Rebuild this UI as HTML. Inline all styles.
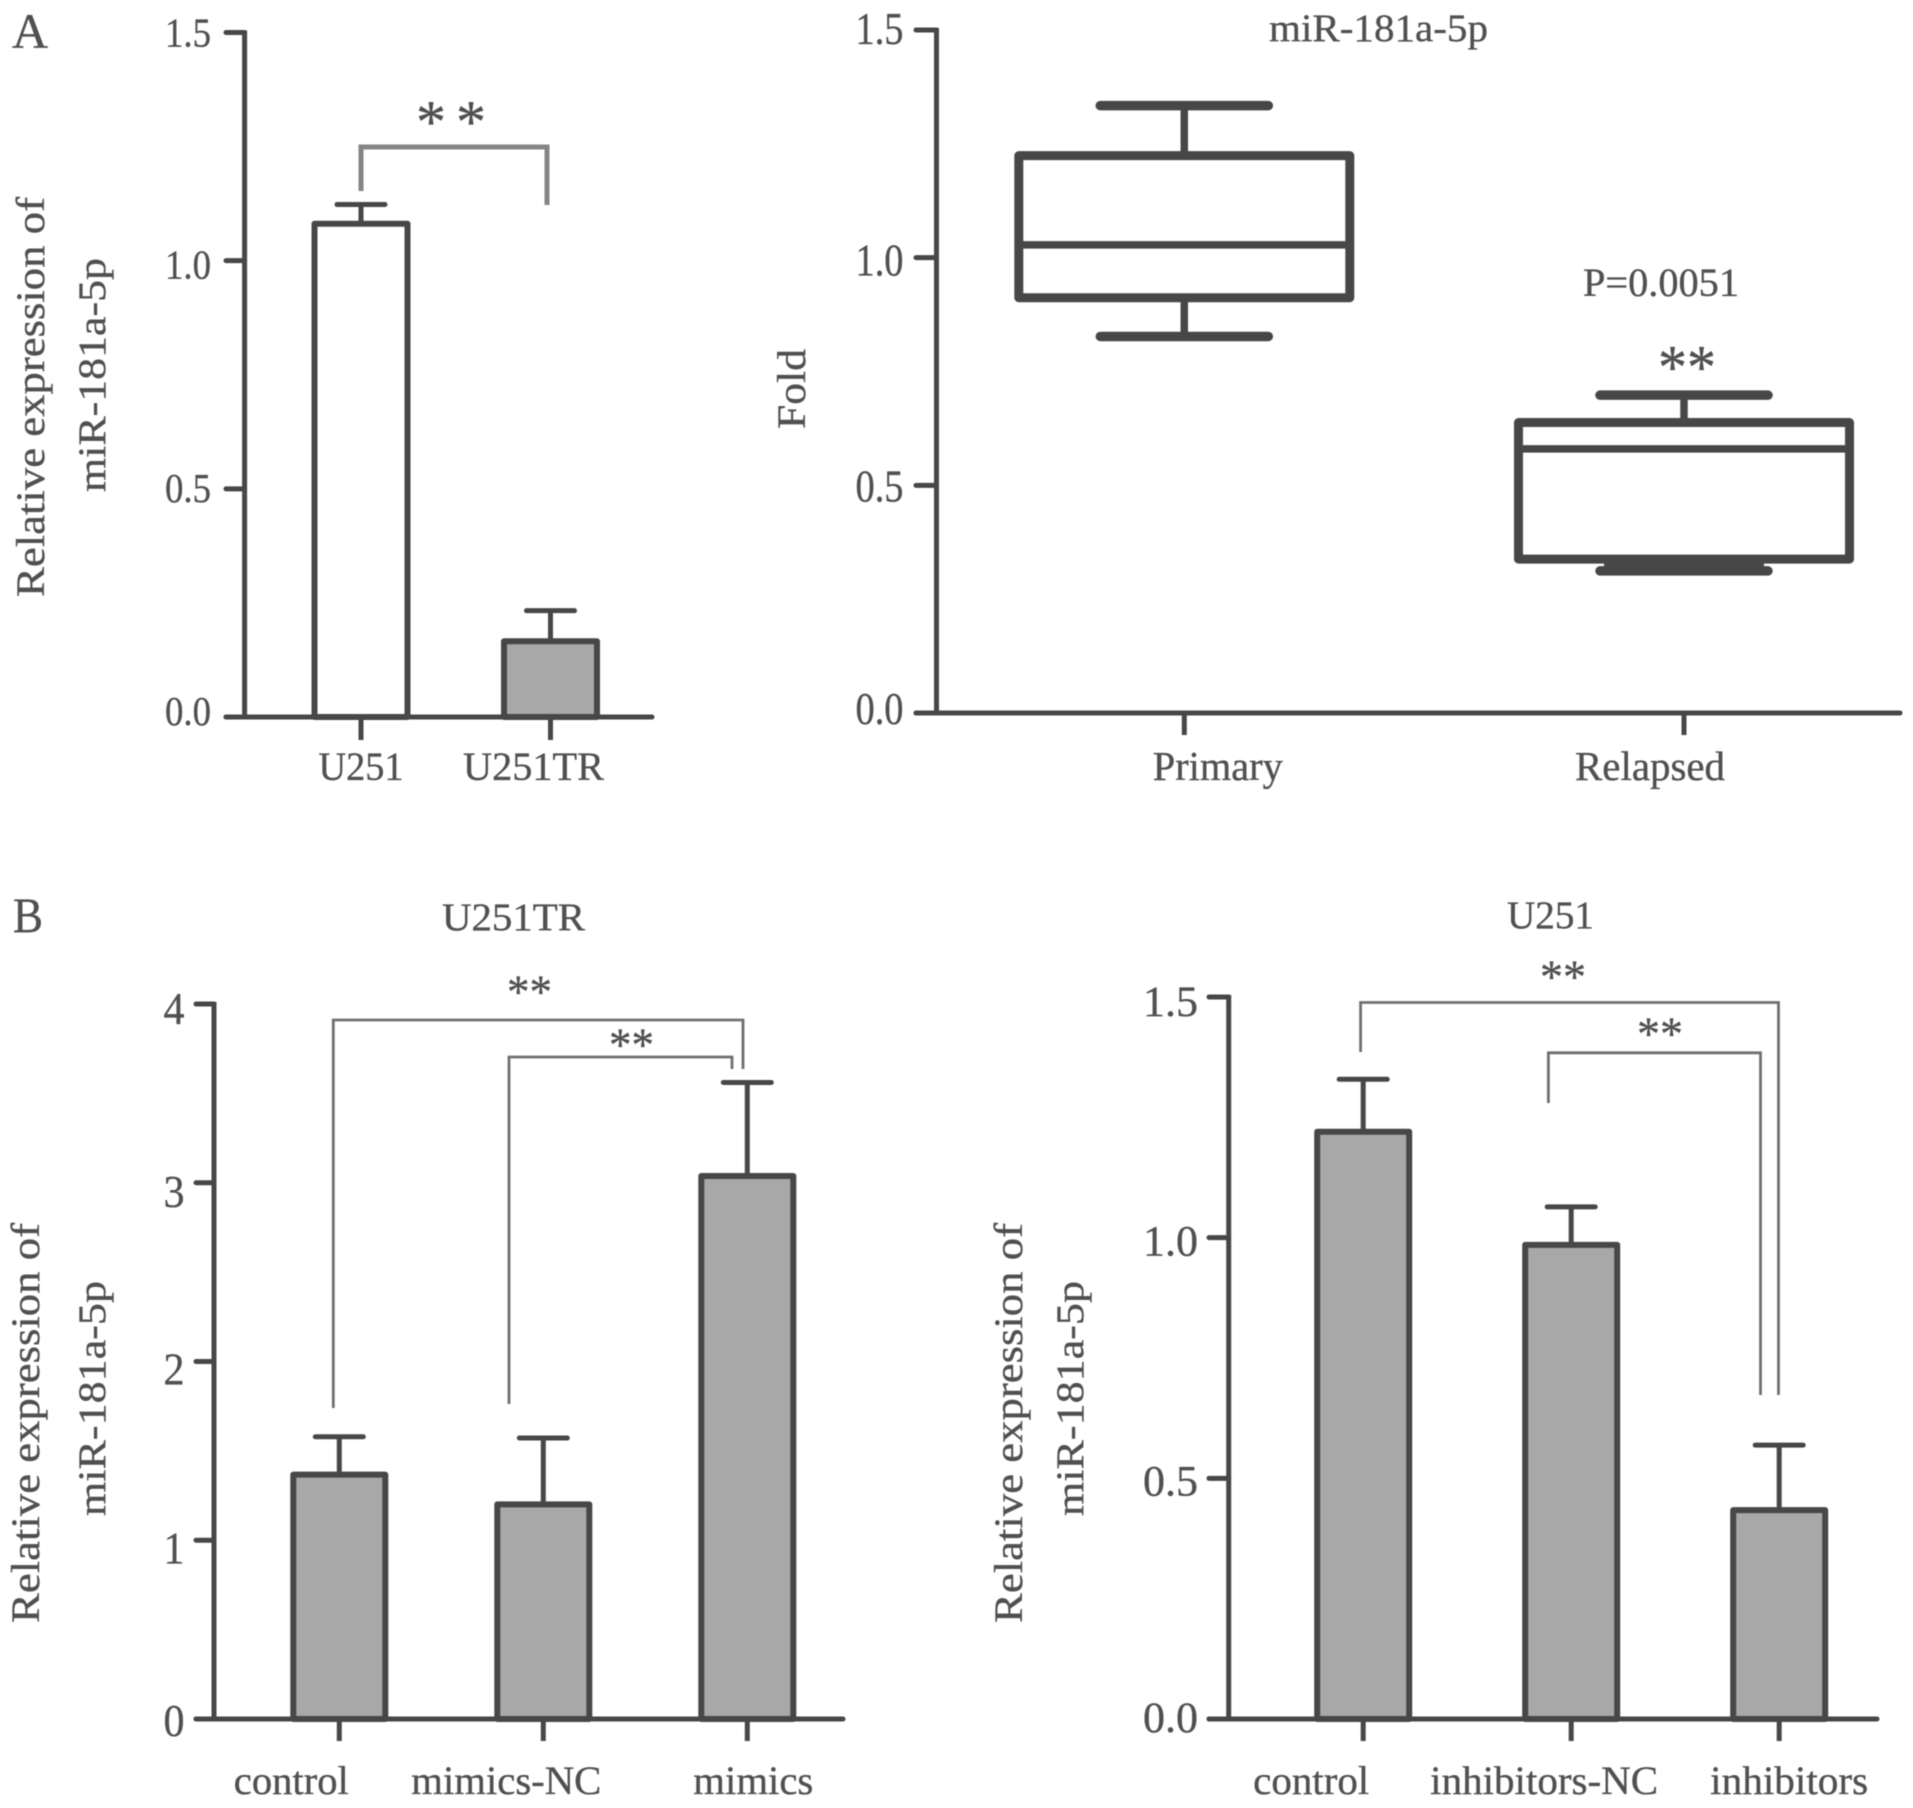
<!DOCTYPE html>
<html lang="en">
<head>
<meta charset="utf-8">
<title>miR-181a-5p expression panels</title>
<style>
html,body{margin:0;padding:0;background:#fff;}
#figure{display:block;width:1913px;height:1808px;filter:blur(0.6px);font-family:"Liberation Serif",serif;}
#figure text{fill:#505050;stroke:#505050;stroke-width:0.35;}
.bracket{fill:none;stroke:#707070;stroke-width:2.8;}
.bracket-thick{fill:none;stroke:#858585;stroke-width:5;}
</style>
</head>
<body>
<svg id="figure" xmlns="http://www.w3.org/2000/svg" width="1913" height="1808" viewBox="0 0 1913 1808">
  <rect x="0" y="0" width="1913" height="1808" fill="#fff"/>

  <text x="12" y="48" font-size="50" textLength="36" lengthAdjust="spacingAndGlyphs">A</text>
  <text x="13" y="932" font-size="50" textLength="30" lengthAdjust="spacingAndGlyphs">B</text>

  <!-- A left annotations -->
  <text transform="translate(44,597) rotate(-90)" font-size="40" textLength="400" lengthAdjust="spacingAndGlyphs">Relative expression of</text>
  <text transform="translate(105,492) rotate(-90)" font-size="39" textLength="234" lengthAdjust="spacingAndGlyphs">miR-181a-5p</text>
  <path class="bracket-thick" d="M361 191V147H547V205"/>
  <text x="416" y="142" font-size="60" textLength="70" lengthAdjust="spacing">* *</text>

  <!-- A right annotations -->
  <text x="1269" y="41" font-size="39" textLength="219" lengthAdjust="spacingAndGlyphs">miR-181a-5p</text>
  <text transform="translate(805,429) rotate(-90)" font-size="40" textLength="80" lengthAdjust="spacingAndGlyphs">Fold</text>
  <text x="1583" y="296" font-size="40" textLength="156" lengthAdjust="spacingAndGlyphs">P=0.0051</text>
  <text x="1658" y="388" font-size="62" textLength="58" lengthAdjust="spacingAndGlyphs">**</text>

  <!-- B left annotations -->
  <text x="442" y="930" font-size="39" textLength="143" lengthAdjust="spacingAndGlyphs">U251TR</text>
  <text transform="translate(39,1623) rotate(-90)" font-size="40" textLength="400" lengthAdjust="spacingAndGlyphs">Relative expression of</text>
  <text transform="translate(105,1516) rotate(-90)" font-size="39" textLength="235" lengthAdjust="spacingAndGlyphs">miR-181a-5p</text>
  <path class="bracket" d="M333.3 1408V1020H743V1069"/>
  <path class="bracket" d="M509 1404V1057H732V1069"/>
  <text x="507" y="1008" font-size="48" textLength="45" lengthAdjust="spacingAndGlyphs">**</text>
  <text x="609" y="1061" font-size="48" textLength="45" lengthAdjust="spacingAndGlyphs">**</text>

  <!-- B right annotations -->
  <text x="1507" y="928" font-size="39" textLength="87" lengthAdjust="spacingAndGlyphs">U251</text>
  <text transform="translate(1022,1623) rotate(-90)" font-size="40" textLength="400" lengthAdjust="spacingAndGlyphs">Relative expression of</text>
  <text transform="translate(1083,1516) rotate(-90)" font-size="39" textLength="235" lengthAdjust="spacingAndGlyphs">miR-181a-5p</text>
  <path class="bracket" d="M1360.6 1052V1002.5H1778.5V1395"/>
  <path class="bracket" d="M1548.4 1103V1052.8H1760.5V1395"/>
  <text x="1540" y="993" font-size="48" textLength="46" lengthAdjust="spacingAndGlyphs">**</text>
  <text x="1637" y="1050" font-size="48" textLength="46" lengthAdjust="spacingAndGlyphs">**</text>
</svg>

<script>
/* ---------- chart data ---------- */
const a1Categories = ["U251", "U251TR"];
const a1Means = [1.081, 0.166];
const a1ErrorTops = [1.123, 0.233];
const a1TickLabels = ["0.0", "0.5", "1.0", "1.5"];

const a2Categories = ["Primary", "Relapsed"];
const a2Max = [1.334, 0.698];
const a2Q3 = [1.224, 0.638];
const a2Median = [1.028, 0.580];
const a2Q1 = [0.912, 0.338];
const a2Min = [0.827, 0.312];
const a2TickLabels = ["0.0", "0.5", "1.0", "1.5"];

const b1Categories = ["control", "mimics-NC", "mimics"];
const b1Means = [1.367, 1.201, 3.038];
const b1ErrorTops = [1.579, 1.572, 3.561];
const b1TickLabels = ["0", "1", "2", "3", "4"];

const b2Categories = ["control", "inhibitors-NC", "inhibitors"];
const b2Means = [1.220, 0.985, 0.434];
const b2ErrorTops = [1.329, 1.064, 0.569];
const b2TickLabels = ["0.0", "0.5", "1.0", "1.5"];

/* ---------- drawing helpers ---------- */
const SVG_NS = "http://www.w3.org/2000/svg";
const figure = document.getElementById("figure");
const INK = "#474747";

function add(parent, tag, attrs, text) {
  const el = document.createElementNS(SVG_NS, tag);
  for (const key in attrs) el.setAttribute(key, attrs[key]);
  if (text !== undefined) el.textContent = text;
  parent.appendChild(el);
  return el;
}
function makeY(c) {
  const top = parseFloat(c.tickLabels[c.tickLabels.length - 1]);
  return function (v) { return c.y0 - v * (c.y0 - c.yTop) / top; };
}
function makeX(c) {
  return function (i) { return c.x0 + i * c.step; };
}
function drawAxes(g, c, y, x) {
  const yAxis = add(g, "line", {x1: c.axisX, x2: c.axisX, y1: c.yTop - 2, y2: c.y0 + 2, stroke: INK, "stroke-width": c.axisW});
  
  
  const xAxis = add(g, "line", {x1: c.tickLeft, x2: c.axisRight, y1: c.y0, y2: c.y0, stroke: INK, "stroke-width": c.axisW, "stroke-linecap": "round"});
  
  
  c.tickLabels.forEach(function (label, i) {
    const v = parseFloat(label);
    const tick = add(g, "line", {x1: c.tickLeft, x2: c.axisX, y1: y(v), y2: y(v), stroke: INK, "stroke-width": c.axisW, "stroke-linecap": "round"});
    
    
    const t = add(g, "text", {x: c.tickTextRight, y: y(v) + c.tickDy[i], "text-anchor": "end", "font-size": c.tickFont, textLength: c.tickLen, lengthAdjust: "spacingAndGlyphs"}, label);
    
    
  });
  c.categories.forEach(function (name, i) {
    const tick = add(g, "line", {x1: x(i), x2: x(i), y1: c.y0, y2: c.tickBottom, stroke: INK, "stroke-width": c.axisW});
    
    
    const t = add(g, "text", {x: x(i) + c.labelDx[i], y: c.labelY, "text-anchor": "middle", "font-size": c.labelFont, textLength: c.labelLen[i], lengthAdjust: "spacingAndGlyphs"}, name);
    
    
  });
}
function drawBars(c, means, errorTops) {
  const g = add(figure, "g", {});
  
  
  const y = makeY(c), x = makeX(c);
  c.categories.forEach(function (name, i) {
    const stem = add(g, "line", {x1: x(i), x2: x(i), y1: y(means[i]), y2: y(errorTops[i]), stroke: INK, "stroke-width": 5});
    
    
    const cap = add(g, "line", {x1: x(i) - c.capHalf, x2: x(i) + c.capHalf, y1: y(errorTops[i]), y2: y(errorTops[i]), stroke: INK, "stroke-width": 5, "stroke-linecap": "round"});
    
    
    const bar = add(g, "rect", {x: x(i) - c.barHalf, y: y(means[i]), width: c.barHalf * 2, height: y(0) - y(means[i]), fill: c.fills[i], stroke: INK, "stroke-width": 6, "stroke-linejoin": "round"});
    
    
  });
  drawAxes(g, c, y, x);
}
function drawBoxes(c, max, q3, median, q1, min) {
  const g = add(figure, "g", {});
  
  
  const y = makeY(c), x = makeX(c);
  c.categories.forEach(function (name, i) {
    const whisker = add(g, "line", {x1: x(i), x2: x(i), y1: y(max[i]), y2: y(min[i]), stroke: INK, "stroke-width": 7.5});
    
    
    const capHigh = add(g, "line", {x1: x(i) - c.capHalf, x2: x(i) + c.capHalf, y1: y(max[i]), y2: y(max[i]), stroke: INK, "stroke-width": 9.5, "stroke-linecap": "round"});
    
    
    const capLow = add(g, "line", {x1: x(i) - c.capHalf, x2: x(i) + c.capHalf, y1: y(min[i]), y2: y(min[i]), stroke: INK, "stroke-width": 9.5, "stroke-linecap": "round"});
    
    
    if (y(min[i]) - y(q1[i]) < 20) {
      const merged = add(g, "rect", {x: x(i) - c.capHalf + 4, y: y(q1[i]), width: (c.capHalf - 4) * 2, height: y(min[i]) - y(q1[i]), fill: INK});
      
      
    }
    const box = add(g, "rect", {x: x(i) - c.boxHalf, y: y(q3[i]), width: c.boxHalf * 2, height: y(q1[i]) - y(q3[i]), fill: "#fff", stroke: INK, "stroke-width": 9, "stroke-linejoin": "round"});
    
    
    const med = add(g, "line", {x1: x(i) - c.boxHalf, x2: x(i) + c.boxHalf, y1: y(median[i]), y2: y(median[i]), stroke: INK, "stroke-width": 7.5});
    
    
  });
  drawAxes(g, c, y, x);
}

/* ---------- charts ---------- */
drawBars({
  id: "a1", categories: a1Categories, tickLabels: a1TickLabels,
  y0: 717, yTop: 32.5, axisX: 244.6, tickLeft: 226, axisRight: 652, axisW: 5,
  x0: 361, step: 189.5, barHalf: 46.5, capHalf: 24, tickBottom: 740,
  fills: ["#fff", "#a8a8a8"],
  tickTextRight: 211, tickDy: [8, 13, 18, 14], tickFont: 41, tickLen: 46,
  labelDx: [0, -17], labelY: 780, labelFont: 40, labelLen: [85, 141]
}, a1Means, a1ErrorTops);

drawBoxes({
  id: "a2", categories: a2Categories, tickLabels: a2TickLabels,
  y0: 713, yTop: 30, axisX: 936.5, tickLeft: 916, axisRight: 1900, axisW: 5,
  x0: 1184.3, step: 499.7, boxHalf: 165.5, capHalf: 84, tickBottom: 735,
  tickTextRight: 903.5, tickDy: [11, 16, 18, 14], tickFont: 45, tickLen: 48,
  labelDx: [33.5, -34], labelY: 780, labelFont: 41, labelLen: [130, 150]
}, a2Max, a2Q3, a2Median, a2Q1, a2Min);

drawBars({
  id: "b1", categories: b1Categories, tickLabels: b1TickLabels,
  y0: 1719, yTop: 1004, axisX: 214, tickLeft: 196, axisRight: 843, axisW: 5,
  x0: 339.3, step: 204, barHalf: 46, capHalf: 24, tickBottom: 1741,
  fills: ["#a8a8a8", "#a8a8a8", "#a8a8a8"],
  tickTextRight: 184.5, tickDy: [17, 23, 23, 24, 20], tickFont: 45, tickLen: 21,
  labelDx: [-48, -37, 6], labelY: 1794, labelFont: 40, labelLen: [115, 190, 120]
}, b1Means, b1ErrorTops);

drawBars({
  id: "b2", categories: b2Categories, tickLabels: b2TickLabels,
  y0: 1719, yTop: 997, axisX: 1228.7, tickLeft: 1209, axisRight: 1877, axisW: 5,
  x0: 1363.2, step: 208, barHalf: 46, capHalf: 24, tickBottom: 1741,
  fills: ["#a8a8a8", "#a8a8a8", "#a8a8a8"],
  tickTextRight: 1198, tickDy: [13, 17, 18, 19], tickFont: 43, tickLen: 55,
  labelDx: [-52, -27, 10], labelY: 1794, labelFont: 40, labelLen: [116, 228, 158]
}, b2Means, b2ErrorTops);
</script>
</body>
</html>
